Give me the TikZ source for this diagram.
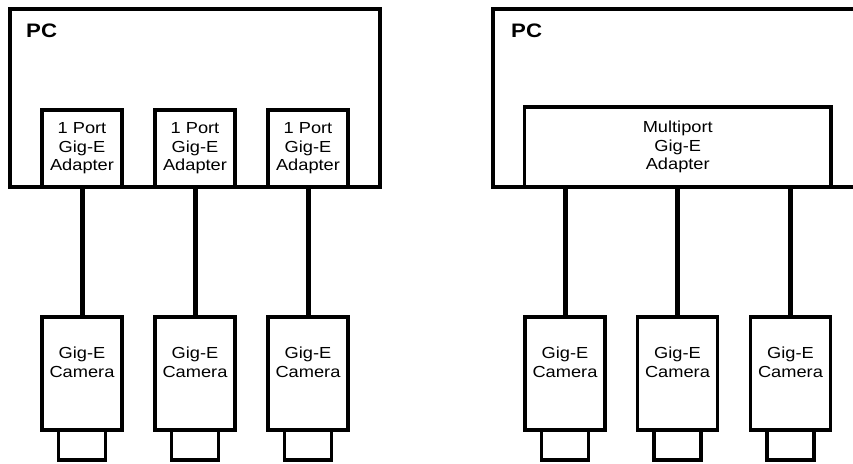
\documentclass[tikz,border=0pt]{standalone}
\usepackage{fontspec}
\setmainfont{Liberation Sans}[FakeStretch=1.14]
\begin{document}
\begin{tikzpicture}[x=1pt,y=-1pt,
  box/.style={draw,line width=3.5pt,fill=white,inner sep=0pt,outer sep=0pt,align=center,
    font=\fontsize{16}{18.5}\selectfont},
  pcbox/.style={box,minimum width=#1,minimum height=178pt},
  adapter/.style={box,minimum width=80pt,minimum height=77pt},
  camera/.style={box,minimum width=80pt,minimum height=113pt},
  lens/.style={box,minimum width=47pt,minimum height=30pt},
  pclabel/.style={anchor=base west,inner sep=0pt,font=\fontsize{19.5}{22}\selectfont\bfseries},
  wire/.style={line width=5pt}]
\useasboundingbox (0,0) rectangle (853,463);
\begin{scope}
\clip (0,0) rectangle (853,463);
% left PC
\node[pcbox=370pt] (pc1) at (195,98) {};
\node[pclabel] (pc1l) at (26,37) {PC};
\node[adapter] (a1) at (82,148.5) {1 Port\\Gig-E\\Adapter};
\node[adapter] (a2) at (195,148.5) {1 Port\\Gig-E\\Adapter};
\node[adapter] (a3) at (308,148.5) {1 Port\\Gig-E\\Adapter};
\foreach \i/\x in {1/82,2/195,3/308}{
  \node[lens] (l\i) at (\x,445) {};
  \node[camera] (c\i) at (\x,373.5) {Gig-E\\Camera\\[4pt]};
  \draw[wire] (a\i.south) -- (c\i.north);
}
% right PC
\node[pcbox=380pt] (pc2) at (683,98) {};
\node[pclabel] (pc2l) at (511,37) {PC};
\node[box,minimum width=306.5pt,minimum height=80pt] (ma) at (677.75,147) {Multiport\\Gig-E\\Adapter};
\foreach \i/\x in {4/565,5/677.5,6/790.5}{
  \node[lens] (l\i) at (\x,445) {};
  \node[camera] (c\i) at (\x,373.5) {Gig-E\\Camera\\[4pt]};
  \draw[wire] (ma.south -| c\i) -- (c\i.north);
}
\end{scope}
\end{tikzpicture}
\end{document}
